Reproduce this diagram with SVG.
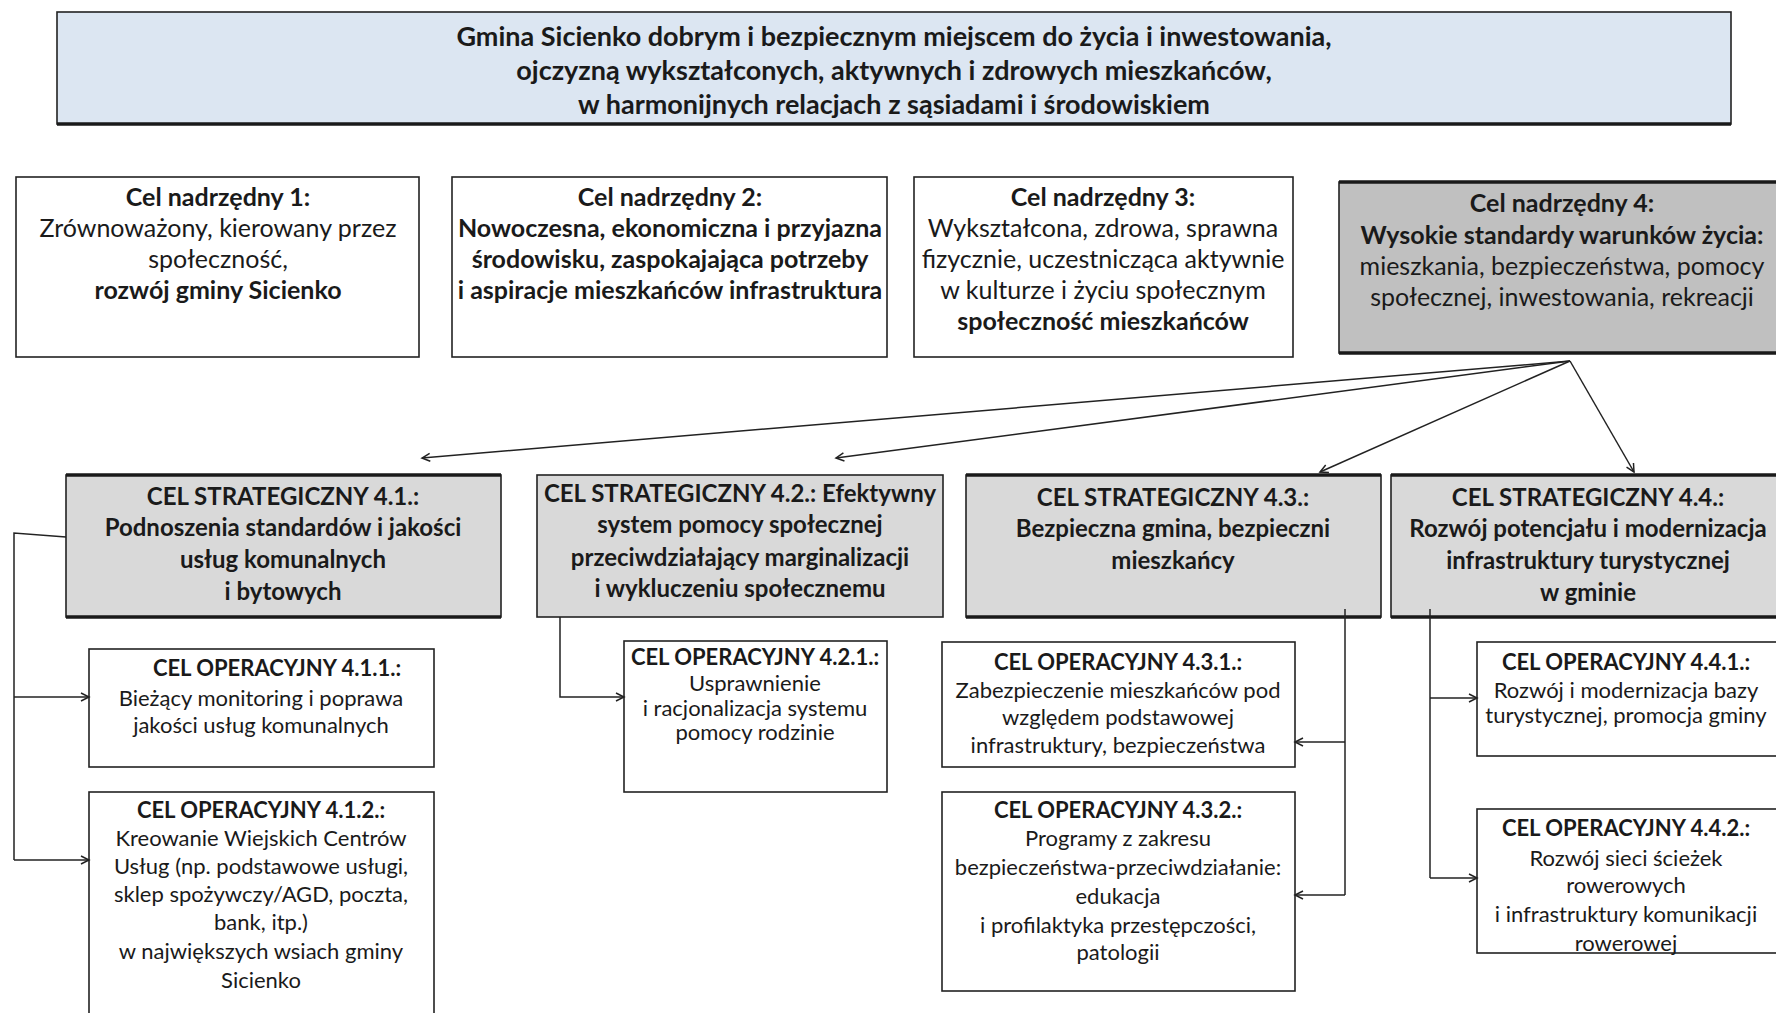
<svg xmlns="http://www.w3.org/2000/svg" width="1776" height="1013" viewBox="0 0 1776 1013">
<style>
.box{fill:#ffffff;stroke:#222;stroke-width:1.6}
.blue{fill:#dce6f2}
.g1{fill:#c0c0c0}
.g2{fill:#d9d9d9}
.sh{stroke:#1a1a1a;stroke-width:3.5;fill:none}
.t{font-family:Lato,"Liberation Sans",sans-serif;text-anchor:middle;fill:#1a1a1a}
.b{font-weight:bold}
.f27{font-size:27px}
.f25{font-size:25px}
.f24{font-size:24px}
.f22{font-size:22px}
.conn{stroke:#222;stroke-width:1.5;fill:none}
</style>
<defs>
<marker id="ah" markerUnits="userSpaceOnUse" markerWidth="12" markerHeight="12" refX="9" refY="5" orient="auto">
<path d="M1,1 L9,5 L1,9" fill="none" stroke="#222" stroke-width="1.5"/>
</marker>
</defs>
<rect width="1776" height="1013" fill="#ffffff"/>

<g id="vision">
<rect class="box blue" x="57" y="12" width="1674" height="112" stroke-width="2"/>
<line class="sh" x1="57" y1="124" x2="1731" y2="124"/>
<text class="t b f27" x="894" y="46">Gmina Sicienko dobrym i bezpiecznym miejscem do życia i inwestowania,</text>
<text class="t b f27" x="894" y="80">ojczyzną wykształconych, aktywnych i zdrowych mieszkańców,</text>
<text class="t b f27" x="894" y="114">w harmonijnych relacjach z sąsiadami i środowiskiem</text>
</g>

<g id="cel1">
<rect class="box" x="16" y="177" width="403" height="180"/>
<text class="t b f25" x="218" y="206">Cel nadrzędny 1:</text>
<text class="t f25" x="218" y="237">Zrównoważony, kierowany przez</text>
<text class="t f25" x="218" y="268">społeczność,</text>
<text class="t b f25" x="218" y="299">rozwój gminy Sicienko</text>
</g>

<g id="cel2">
<rect class="box" x="452" y="177" width="435" height="180"/>
<text class="t b f25" x="670" y="206">Cel nadrzędny 2:</text>
<text class="t b f25" x="670" y="237">Nowoczesna, ekonomiczna i przyjazna</text>
<text class="t b f25" x="670" y="268">środowisku, zaspokajająca potrzeby</text>
<text class="t b f25" x="670" y="299">i aspiracje mieszkańców infrastruktura</text>
</g>

<g id="cel3">
<rect class="box" x="914" y="177" width="379" height="180"/>
<text class="t b f25" x="1103" y="206">Cel nadrzędny 3:</text>
<text class="t f25" x="1103" y="237">Wykształcona, zdrowa, sprawna</text>
<text class="t f25" x="1103" y="268">fizycznie, uczestnicząca aktywnie</text>
<text class="t f25" x="1103" y="299">w kulturze i życiu społecznym</text>
<text class="t b f25" x="1103" y="330">społeczność mieszkańców</text>
</g>

<g id="cel4">
<rect class="box g1" x="1339" y="182" width="460" height="171"/>
<line class="sh" x1="1339" y1="182" x2="1776" y2="182"/>
<line class="sh" x1="1339" y1="353" x2="1776" y2="353"/>
<text class="t b f25" x="1562" y="212">Cel nadrzędny  4:</text>
<text class="t b f25" x="1562" y="244">Wysokie standardy warunków życia:</text>
<text class="t f25" x="1562" y="275">mieszkania, bezpieczeństwa, pomocy</text>
<text class="t f25" x="1562" y="306">społecznej, inwestowania, rekreacji</text>
</g>

<g id="s41">
<rect class="box g2" x="66" y="475" width="435" height="142"/>
<line class="sh" x1="66" y1="475" x2="501" y2="475"/>
<line class="sh" x1="66" y1="617" x2="501" y2="617"/>
<text class="t b f24" x="283" y="505">CEL STRATEGICZNY 4.1.:</text>
<text class="t b f24" x="283" y="536">Podnoszenia standardów i jakości</text>
<text class="t b f24" x="283" y="568">usług komunalnych</text>
<text class="t b f24" x="283" y="600">i bytowych</text>
</g>

<g id="s42">
<rect class="box g2" x="537" y="475" width="406" height="142"/>
<text class="t b f24" x="740" y="502">CEL STRATEGICZNY 4.2.: Efektywny</text>
<text class="t b f24" x="740" y="533">system pomocy społecznej</text>
<text class="t b f24" x="740" y="566">przeciwdziałający marginalizacji</text>
<text class="t b f24" x="740" y="597">i wykluczeniu społecznemu</text>
</g>

<g id="s43">
<rect class="box g2" x="966" y="475" width="415" height="142"/>
<line class="sh" x1="966" y1="475" x2="1381" y2="475"/>
<line class="sh" x1="966" y1="617" x2="1381" y2="617"/>
<text class="t b f24" x="1173" y="506">CEL STRATEGICZNY 4.3.:</text>
<text class="t b f24" x="1173" y="537">Bezpieczna gmina, bezpieczni</text>
<text class="t b f24" x="1173" y="569">mieszkańcy</text>
</g>

<g id="s44">
<rect class="box g2" x="1391" y="475" width="400" height="142"/>
<line class="sh" x1="1391" y1="475" x2="1776" y2="475"/>
<line class="sh" x1="1391" y1="617" x2="1776" y2="617"/>
<text class="t b f24" x="1588" y="506">CEL STRATEGICZNY 4.4.:</text>
<text class="t b f24" x="1588" y="537">Rozwój potencjału i modernizacja</text>
<text class="t b f24" x="1588" y="569">infrastruktury turystycznej</text>
<text class="t b f24" x="1588" y="601">w gminie</text>
</g>

<g id="o411">
<rect class="box" x="89" y="649" width="345" height="118"/>
<text class="t b f22" x="277" y="676">CEL OPERACYJNY 4.1.1.:</text>
<text class="t f22" x="261" y="706">Bieżący monitoring i poprawa</text>
<text class="t f22" x="261" y="733">jakości usług komunalnych</text>
</g>

<g id="o412">
<rect class="box" x="89" y="792" width="345" height="240"/>
<text class="t b f22" x="261" y="818">CEL OPERACYJNY 4.1.2.:</text>
<text class="t f22" x="261" y="846">Kreowanie Wiejskich Centrów</text>
<text class="t f22" x="261" y="874">Usług (np. podstawowe  usługi,</text>
<text class="t f22" x="261" y="902">sklep spożywczy/AGD, poczta,</text>
<text class="t f22" x="261" y="930">bank, itp.)</text>
<text class="t f22" x="261" y="959">w największych wsiach gminy</text>
<text class="t f22" x="261" y="988">Sicienko</text>
</g>

<g id="o421">
<rect class="box" x="624" y="641" width="263" height="151"/>
<text class="t b f22" x="755" y="665">CEL OPERACYJNY 4.2.1.:</text>
<text class="t f22" x="755" y="691">Usprawnienie</text>
<text class="t f22" x="755" y="716">i racjonalizacja systemu</text>
<text class="t f22" x="755" y="740">pomocy rodzinie</text>
</g>

<g id="o431">
<rect class="box" x="942" y="642" width="353" height="125"/>
<text class="t b f22" x="1118" y="670">CEL OPERACYJNY 4.3.1.:</text>
<text class="t f22" x="1118" y="698">Zabezpieczenie mieszkańców pod</text>
<text class="t f22" x="1118" y="725">względem podstawowej</text>
<text class="t f22" x="1118" y="753">infrastruktury, bezpieczeństwa</text>
</g>

<g id="o432">
<rect class="box" x="942" y="792" width="353" height="199"/>
<text class="t b f22" x="1118" y="818">CEL OPERACYJNY 4.3.2.:</text>
<text class="t f22" x="1118" y="846">Programy z zakresu</text>
<text class="t f22" x="1118" y="875">bezpieczeństwa-przeciwdziałanie:</text>
<text class="t f22" x="1118" y="904">edukacja</text>
<text class="t f22" x="1118" y="933">i profilaktyka przestępczości,</text>
<text class="t f22" x="1118" y="960">patologii</text>
</g>

<g id="o441">
<rect class="box" x="1477" y="642" width="310" height="114"/>
<text class="t b f22" x="1626" y="670">CEL OPERACYJNY 4.4.1.:</text>
<text class="t f22" x="1626" y="698">Rozwój i modernizacja bazy</text>
<text class="t f22" x="1626" y="723">turystycznej, promocja gminy</text>
</g>

<g id="o442">
<rect class="box" x="1477" y="809" width="310" height="144"/>
<text class="t b f22" x="1626" y="836">CEL OPERACYJNY 4.4.2.:</text>
<text class="t f22" x="1626" y="866">Rozwój sieci ścieżek</text>
<text class="t f22" x="1626" y="893">rowerowych</text>
<text class="t f22" x="1626" y="922">i infrastruktury komunikacji</text>
<text class="t f22" x="1626" y="951">rowerowej</text>
</g>

<g id="connectors">
<line class="conn" x1="1570" y1="361" x2="422" y2="458" marker-end="url(#ah)"/>
<line class="conn" x1="1570" y1="361" x2="836" y2="458" marker-end="url(#ah)"/>
<line class="conn" x1="1570" y1="361" x2="1320" y2="472" marker-end="url(#ah)"/>
<line class="conn" x1="1570" y1="361" x2="1634" y2="472" marker-end="url(#ah)"/>
<polyline class="conn" points="66,537 14,533 14,860"/>
<line class="conn" x1="14" y1="697" x2="89" y2="697" marker-end="url(#ah)"/>
<line class="conn" x1="14" y1="860" x2="89" y2="860" marker-end="url(#ah)"/>
<polyline class="conn" points="560,617 560,697 624,697" marker-end="url(#ah)"/>
<line class="conn" x1="1345" y1="609" x2="1345" y2="895"/>
<line class="conn" x1="1345" y1="742" x2="1295" y2="742" marker-end="url(#ah)"/>
<line class="conn" x1="1345" y1="895" x2="1295" y2="895" marker-end="url(#ah)"/>
<line class="conn" x1="1430" y1="609" x2="1430" y2="878"/>
<line class="conn" x1="1430" y1="698" x2="1477" y2="698" marker-end="url(#ah)"/>
<line class="conn" x1="1430" y1="878" x2="1477" y2="878" marker-end="url(#ah)"/>
</g>
</svg>
